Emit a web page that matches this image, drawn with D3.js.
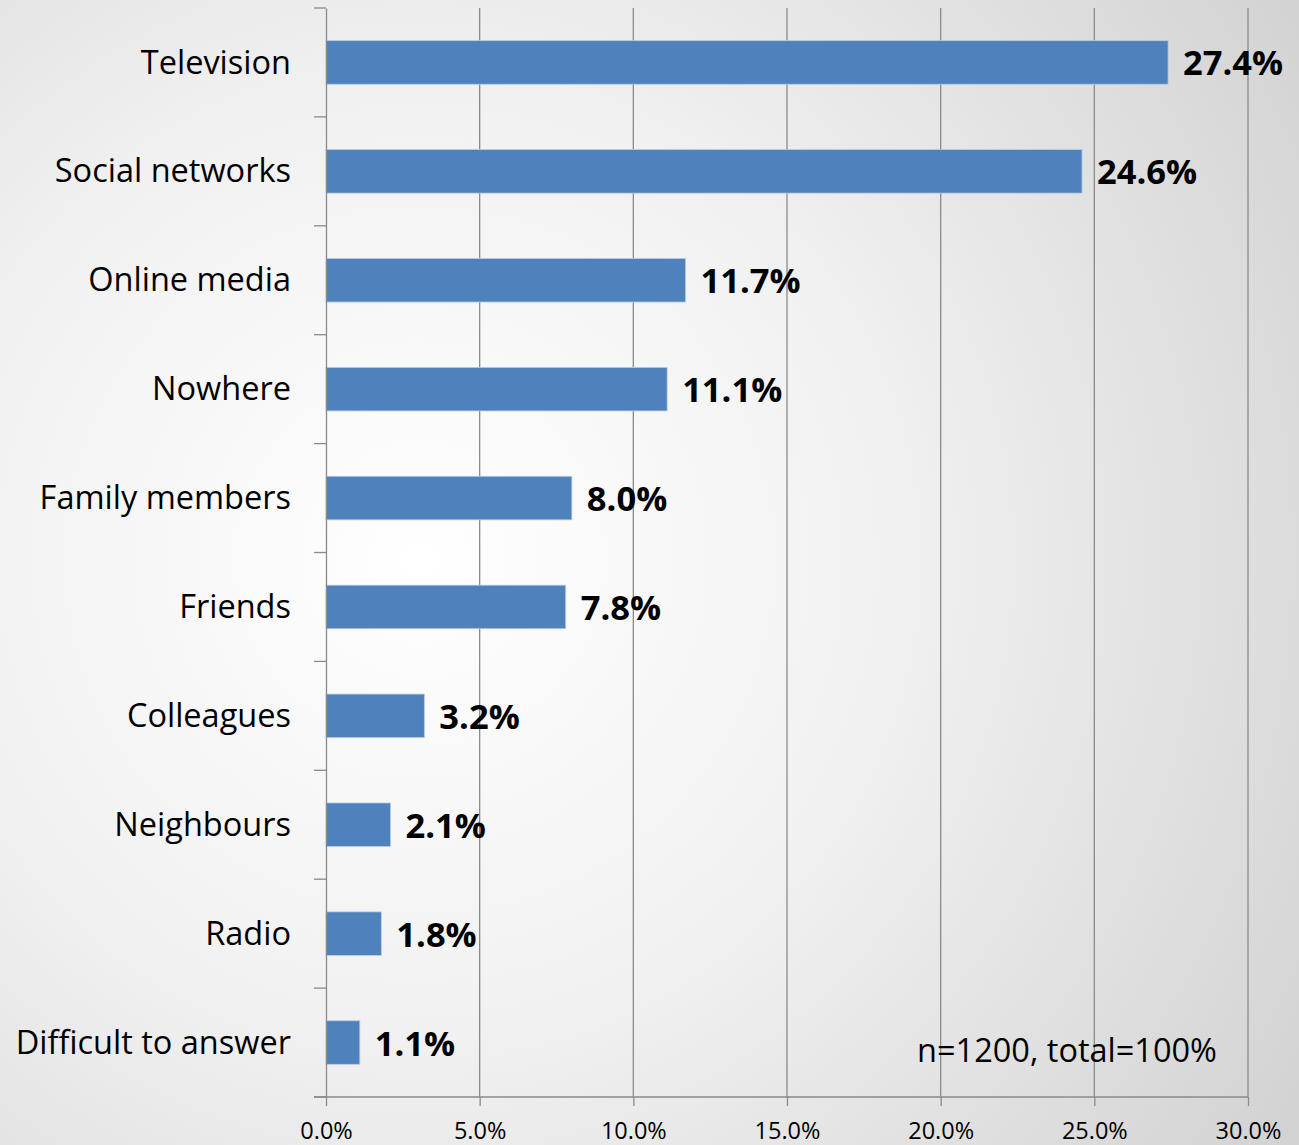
<!DOCTYPE html>
<html>
<head>
<meta charset="utf-8">
<script src="https://cdn.jsdelivr.net/npm/d3@7"></script>
<style>
  html, body { margin: 0; padding: 0; }
  body { width: 1299px; height: 1145px; overflow: hidden; }
  svg { display: block; }
</style>
</head>
<body>
<script>
const categories = ["Television", "Social networks", "Online media", "Nowhere", "Family members", "Friends", "Colleagues", "Neighbours", "Radio", "Difficult to answer"];
const values = [27.4, 24.6, 11.7, 11.1, 8.0, 7.8, 3.2, 2.1, 1.8, 1.1];
const xTicks = [0, 5, 10, 15, 20, 25, 30];
const note = "n=1200, total=100%";

const W = 1299, H = 1145;
const m = { left: 326, right: 1248, top: 8, bottom: 1097 };

const svg = d3.select("body").append("svg").attr("width", W).attr("height", H);

const defs = svg.append("defs");
const grad = defs.append("radialGradient").attr("id", "bg")
  .attr("gradientUnits", "userSpaceOnUse")
  .attr("cx", 420).attr("cy", 560).attr("r", 1050);
grad.append("stop").attr("offset", "0%").attr("stop-color", "#ffffff");
grad.append("stop").attr("offset", "45%").attr("stop-color", "#f1f1f1");
grad.append("stop").attr("offset", "100%").attr("stop-color", "#d2d2d2");
svg.append("rect").attr("width", W).attr("height", H).attr("fill", "url(#bg)");

const x = d3.scaleLinear().domain([0, 30]).range([m.left, m.right]);
const y = d3.scaleBand().domain(categories).range([m.top, m.bottom]).paddingInner(0.6).paddingOuter(0.3);

const gridColor = "#8a8a8a";
const font = "'Open Sans', sans-serif";

// vertical gridlines
svg.append("g").selectAll("line").data(xTicks.slice(1)).join("line")
  .attr("x1", d => x(d)).attr("x2", d => x(d))
  .attr("y1", m.top).attr("y2", m.bottom)
  .attr("stroke", gridColor).attr("stroke-width", 1.3);

// bars
const data = categories.map((c, i) => ({ c, v: values[i] }));
svg.append("g").selectAll("rect").data(data).join("rect")
  .attr("x", x(0)).attr("y", d => y(d.c))
  .attr("width", d => x(d.v) - x(0)).attr("height", y.bandwidth())
  .attr("fill", "#4f81bd").attr("stroke", "#b9cde5").attr("stroke-width", 0.8);

// value labels
svg.append("g").selectAll("text").data(data).join("text")
  .attr("x", d => x(d.v) + 15)
  .attr("y", d => y(d.c) + y.bandwidth() / 2 + 13)
  .attr("font-family", font).attr("font-weight", "bold").attr("font-size", 34.5)
  .attr("fill", "#000")
  .text(d => d.v.toFixed(1) + "%");

// y axis
const yAxis = d3.axisLeft(y).tickSize(0).tickPadding(35);
const gy = svg.append("g").attr("transform", `translate(${m.left},0)`).call(yAxis);
gy.select(".domain").attr("stroke", gridColor).attr("stroke-width", 1.3);
gy.selectAll("text").attr("font-family", font).attr("font-size", 32.5).attr("fill", "#000").attr("dy", "0.34em");
// boundary ticks
const bounds = d3.range(categories.length + 1).map(i => m.top + i * (m.bottom - m.top) / categories.length);
svg.append("g").selectAll("line").data(bounds).join("line")
  .attr("x1", m.left - 12).attr("x2", m.left)
  .attr("y1", d => d).attr("y2", d => d)
  .attr("stroke", gridColor).attr("stroke-width", 1.3);

// x axis
const xAxis = d3.axisBottom(x).tickValues(xTicks).tickSize(9).tickPadding(16).tickFormat(d => d.toFixed(1) + "%");
const gx = svg.append("g").attr("transform", `translate(0,${m.bottom})`).call(xAxis);
gx.select(".domain").remove();
gx.selectAll(".tick line").attr("stroke", gridColor).attr("stroke-width", 1.3);
gx.selectAll("text").attr("font-family", font).attr("font-size", 23.5).attr("fill", "#000");
svg.append("line").attr("x1", m.left - 12).attr("x2", m.right)
  .attr("y1", m.bottom).attr("y2", m.bottom)
  .attr("stroke", gridColor).attr("stroke-width", 1.3);

// note
svg.append("text").attr("x", 1217).attr("y", 1062).attr("text-anchor", "end")
  .attr("font-family", font).attr("font-size", 32.5).attr("fill", "#000").text(note);
</script>
</body>
</html>
